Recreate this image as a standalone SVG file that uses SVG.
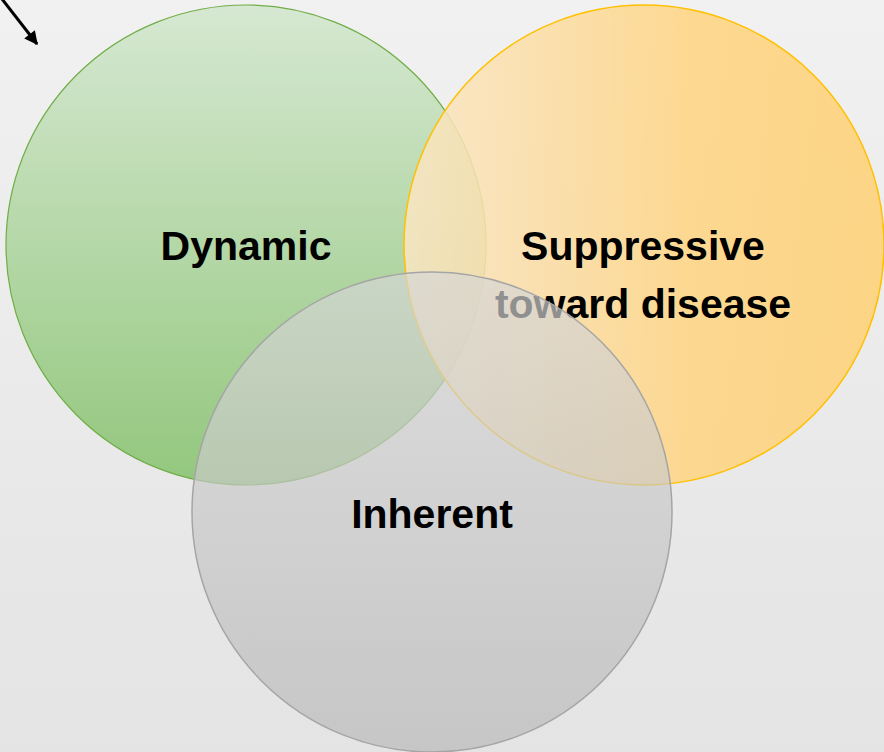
<svg xmlns="http://www.w3.org/2000/svg" width="884" height="752" viewBox="0 0 884 752">
<defs>
<linearGradient id="bg" x1="0" y1="0" x2="0" y2="1"><stop offset="0" stop-color="#f1f1f1"/><stop offset="1" stop-color="#e4e4e4"/></linearGradient>
<linearGradient id="gGreen" x1="0" y1="0" x2="0" y2="1"><stop offset="0" stop-color="#d6e8d2"/><stop offset="1" stop-color="#93c77d"/></linearGradient>
<linearGradient id="gOrange" x1="0" y1="0" x2="1" y2="0"><stop offset="0" stop-color="#fae6c4"/><stop offset="0.6" stop-color="#ffd480"/><stop offset="1" stop-color="#ffd073"/></linearGradient>
<linearGradient id="gGray" x1="0" y1="0" x2="0" y2="1"><stop offset="0" stop-color="#d6d6d6"/><stop offset="1" stop-color="#b8b8b8"/></linearGradient>
<marker id="ah" viewBox="0 0 10 10" refX="9" refY="5" markerWidth="5" markerHeight="4.5" orient="auto"><path d="M0,0 L10,5 L0,10 z" fill="#000"/></marker>
<style>
.lbl{font-family:"Liberation Sans",Arial,sans-serif;font-weight:bold;font-size:41px;fill:#000;text-anchor:middle}
</style>
</defs>
<rect width="884" height="752" fill="url(#bg)"/>
<g id="connectors">
<line x1="2" y1="-1" x2="37" y2="44" stroke="#000" stroke-width="3" marker-end="url(#ah)"/>
</g>
<g id="dynamic">
<circle cx="246" cy="245" r="240" fill="url(#gGreen)" stroke="#70ad47" stroke-width="1.2"/>
<text class="lbl" x="246" y="260">Dynamic</text>
</g>
<g id="suppressive">
<circle cx="644" cy="245" r="240" fill="url(#gOrange)" fill-opacity="0.85" stroke="#ffc000" stroke-width="1.5"/>
<text class="lbl" x="643" y="260">Suppressive</text>
<text class="lbl" x="643" y="318">toward disease</text>
</g>
<g id="inherent">
<circle cx="432" cy="512" r="240" fill="url(#gGray)" fill-opacity="0.68" stroke="#a5a5a5" stroke-width="1.5"/>
<text class="lbl" x="432" y="528">Inherent</text>
</g>
</svg>
